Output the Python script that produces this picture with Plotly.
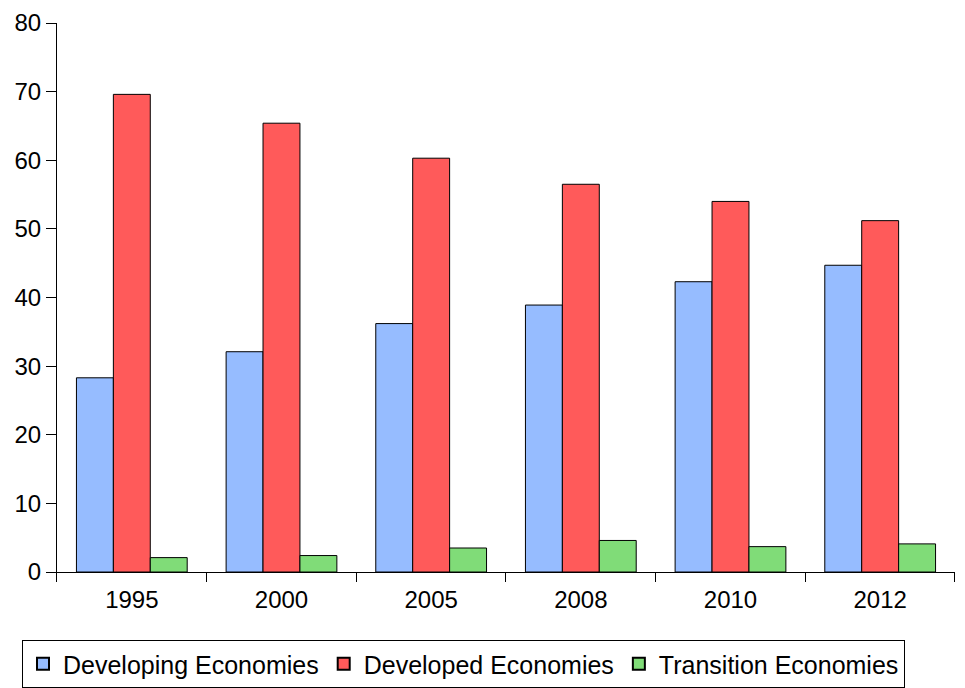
import plotly.graph_objects as go

years = ["1995", "2000", "2005", "2008", "2010", "2012"]
developing = [28.3, 32.1, 36.2, 38.9, 42.3, 44.7]
developed = [69.6, 65.4, 60.3, 56.5, 54.0, 51.2]
transition = [2.1, 2.4, 3.5, 4.6, 3.7, 4.1]

series = [
    ("Developing Economies", developing, "#96BCFF"),
    ("Developed Economies", developed, "#FF5A5A"),
    ("Transition Economies", transition, "#80DC78"),
]

FONT = "Liberation Sans, Arial, sans-serif"

fig = go.Figure()
for name, vals, col in series:
    fig.add_trace(go.Bar(
        x=years, y=vals, name=name,
        marker=dict(color=col, line=dict(color="black", width=1)),
    ))

# page body has an 8px default margin, so the figure is a bit smaller and shifted
fig.update_layout(
    width=957, height=680,
    margin=dict(l=14, r=10, t=15, b=0),
    paper_bgcolor="white", plot_bgcolor="white",
    barmode="group", bargap=0.26, bargroupgap=0,
    font=dict(family=FONT, size=24, color="black"),
    showlegend=True,
    legend=dict(
        orientation="h", x=0.0, xanchor="left", y=0.0, yanchor="bottom",
        bordercolor="black", borderwidth=1, font=dict(size=25),
        itemsizing="constant", traceorder="normal",
        tracegroupgap=0, itemwidth=30,
    ),
)
fig.update_xaxes(
    domain=[0.0375, 1.0],
    type="category", showline=True, linecolor="black", linewidth=1,
    ticks="outside", tickson="boundaries", ticklen=9, tickcolor="black",
    ticklabelstandoff=6,
    showgrid=False, zeroline=False, automargin=False,
)
fig.update_yaxes(
    domain=[0.1744, 1.0],
    range=[0, 80], dtick=10, showline=True, linecolor="black", linewidth=1,
    ticks="outside", ticklen=10, tickcolor="black",
    showgrid=False, zeroline=False, automargin=False,
)

fig.write_html("out.html")
